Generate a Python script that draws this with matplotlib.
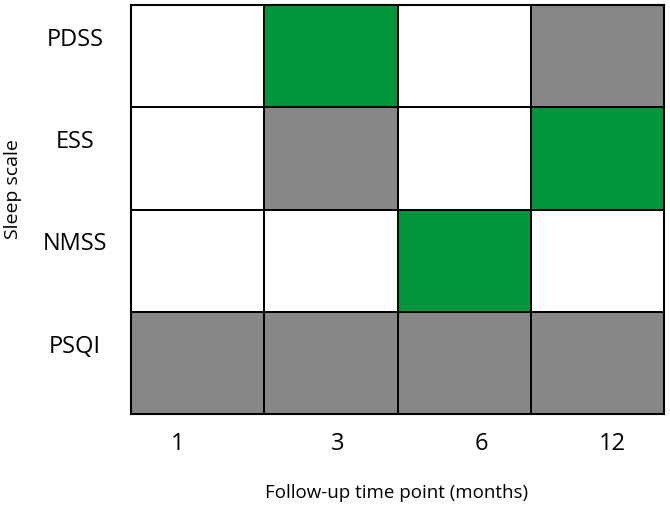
import matplotlib
matplotlib.use("Agg")
import matplotlib.pyplot as plt
import matplotlib.transforms as mtransforms
from matplotlib.colors import ListedColormap
import numpy as np

# Data
scales = ["PDSS", "ESS", "NMSS", "PSQI"]
timepoints = ["1", "3", "6", "12"]
# 0 = white (no finding), 1 = green, 2 = gray
status_pdss = [0, 1, 0, 2]
status_ess = [0, 2, 0, 1]
status_nmss = [0, 0, 1, 0]
status_psqi = [2, 2, 2, 2]

grid = np.array([status_pdss, status_ess, status_nmss, status_psqi])

plt.rcParams['font.family'] = ['Open Sans', 'DejaVu Sans']

fig = plt.figure(figsize=(6.7, 5.09), dpi=100)
ax = fig.add_axes([131/670, 1 - 414/509, (664-131)/670, (414-5)/509])

cmap = ListedColormap(["#ffffff", "#00973a", "#878787"])
ax.pcolormesh(np.arange(len(timepoints)+1), np.arange(len(scales)+1), grid,
              cmap=cmap, vmin=-0.5, vmax=2.5, edgecolors="black", linewidth=1.3)
ax.set_xlim(0, len(timepoints))
ax.set_ylim(len(scales), 0)
for s in ax.spines.values():
    s.set_linewidth(1.5)
    s.set_color("black")

# x tick labels (slightly offset as in reference)
x_offsets = [-0.15, 0.05, 0.13, 0.11]
ax.set_xticks([i + 0.5 + o for i, o in enumerate(x_offsets)])
ax.set_xticklabels(timepoints, fontsize=17)
ax.tick_params(axis="x", length=0, pad=13)

ax.set_yticks([])
trans = mtransforms.blended_transform_factory(ax.transAxes, ax.transData)
for i, name in enumerate(scales):
    ax.text(-0.105, i + 0.34, name, transform=trans,
            ha="center", va="center", fontsize=17)

fig.text(397/670, 1 - 493/509, "Follow-up time point (months)", ha="center", va="center", fontsize=13.5)
fig.text(13/670, 1 - 189/509, "Sleep scale", ha="center", va="center", rotation=90, fontsize=14)

fig.savefig("out.png", dpi=100)
